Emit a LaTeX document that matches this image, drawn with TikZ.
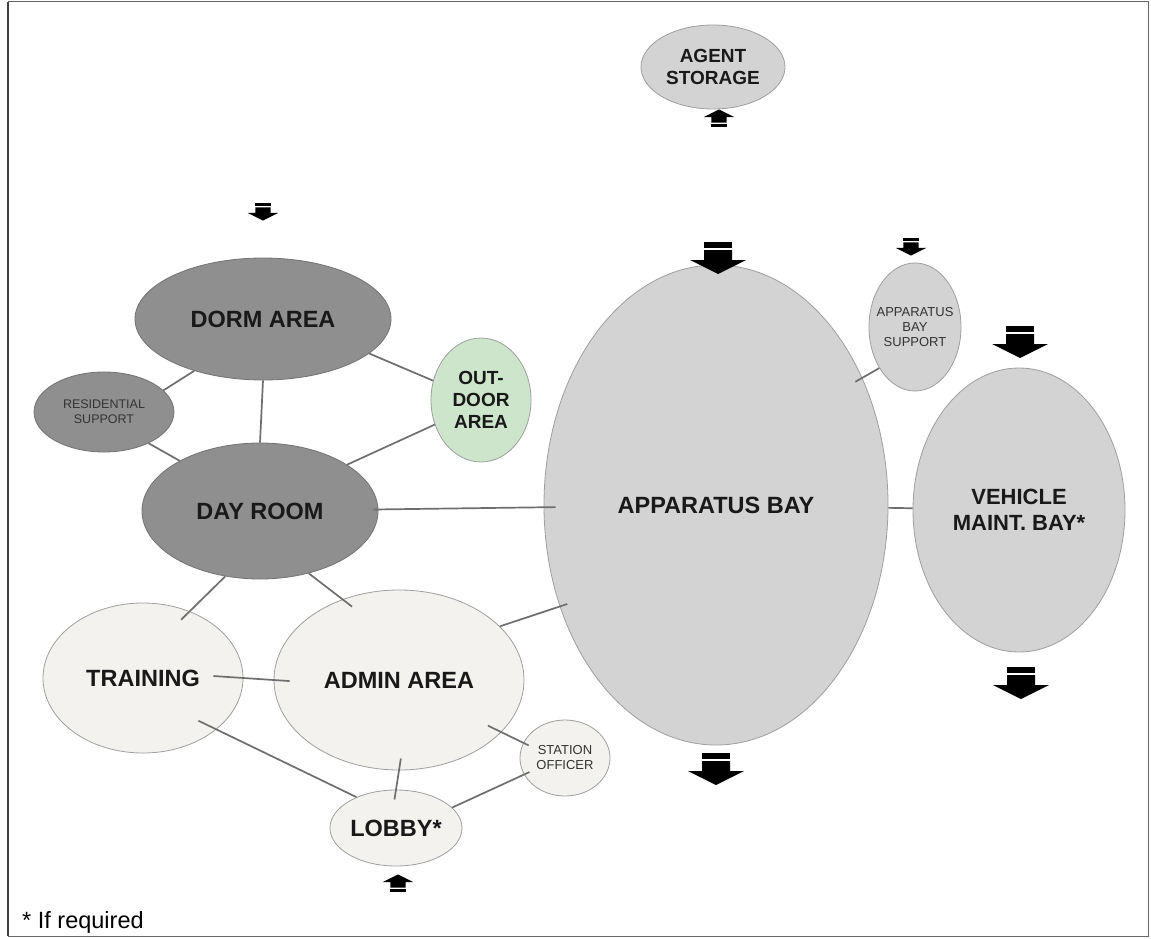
\documentclass[tikz,border=0pt]{standalone}
\usepackage{fontspec}
\setmainfont{Liberation Sans}
\usetikzlibrary{shapes.geometric}

\definecolor{crewgray}{HTML}{8F8F8F}
\definecolor{baygray}{HTML}{D3D3D3}
\definecolor{officewhite}{HTML}{F3F2EF}
\definecolor{yardgreen}{HTML}{CDE6CB}
\definecolor{linkgray}{HTML}{6E6E6E}

\tikzset{
  zone/.style={ellipse, draw=gray!75, line width=0.8pt, inner sep=0pt, align=center,
    text=black!90, font=\bfseries\fontsize{23.5}{26}\selectfont},
  crew/.style={zone, fill=crewgray, draw=gray!90!black},
  bay/.style={zone, fill=baygray},
  office/.style={zone, fill=officewhite},
  yard/.style={zone, fill=yardgreen},
  smalltext/.style={font=\fontsize{13}{15}\selectfont, text=black!80},
  midtext/.style={font=\bfseries\fontsize{19}{22}\selectfont},
  link/.style={draw=linkgray, line width=1.7pt},
  pics/flowarrow/.style={code={
    \fill (-14,0) rectangle (14,6);
    \fill (-14,8) -- (14,8) -- (14,18) -- (28,18) -- (0,32) -- (-28,18) -- (-14,18) -- cycle;
  }},
}

\begin{document}
\begin{tikzpicture}[x=1pt,y=-1pt]
    \useasboundingbox (0,0) rectangle (1151,939);
    \fill[white] (0,0) rectangle (1151,939);
    \draw[gray!80!black, line width=1pt] (8,2) rectangle (1148,936);
    \draw[black!75, line width=1.6pt] (8,2) -- (8,936);

    % zones
    \node[bay, midtext, minimum width=144, minimum height=84] (agent) at (713,67) {AGENT\\STORAGE};
    \node[crew, minimum width=256, minimum height=122] (dorm) at (263,319) {DORM AREA};
    \node[crew, smalltext, font=\fontsize{12.5}{15}\selectfont, minimum width=140, minimum height=80] (res) at (104,412) {RESIDENTIAL\\SUPPORT};
    \node[yard, font=\bfseries\fontsize{19}{22}\selectfont, minimum width=100, minimum height=124] (out) at (481,400) {OUT-\\DOOR\\AREA};
    \node[crew, minimum width=236, minimum height=136] (day) at (260,511) {DAY ROOM};
    \node[bay, minimum width=344, minimum height=480] (app) at (716,505) {APPARATUS BAY};
    \node[bay, smalltext, inner sep=-16pt, minimum width=92, minimum height=128] (appsup) at (915,327) {APPARATUS\\BAY\\SUPPORT};
    \node[bay, font=\bfseries\fontsize{22}{26}\selectfont, minimum width=212, minimum height=284] (veh) at (1019,510) {VEHICLE\\MAINT. BAY*};
    \node[office, minimum width=200, minimum height=150] (train) at (143,678) {TRAINING};
    \node[office, minimum width=250, minimum height=180] (admin) at (399,680) {ADMIN AREA};
    \node[office, smalltext, minimum width=90, minimum height=76] (officer) at (565,758) {STATION\\OFFICER};
    \node[office, minimum width=132, minimum height=76] (lobby) at (396,828) {LOBBY*};

    % links
    \draw[link] (res.20) -- (dorm.217);
    \draw[link] (res.-35) -- (day.148);
    \draw[link] (dorm.south) -- (day.north);
    \draw[link] (dorm.-18) -- (out.158);
    \draw[link] (day.28) -- (out.208);
    \draw[link, shorten <=-5pt, shorten >=-12pt] (day) -- (app);
    \draw[link, shorten >=-12pt] (day.-118) -- (train.55);
    \draw[link, shorten >=-12pt] (day.-52) -- (admin.125);
    \draw[link, shorten >=-8pt] (admin.28) -- (app.213);
    \draw[link, shorten <=-30pt, shorten >=-16pt] (train.east) -- (admin.west);
    \draw[link, shorten <=-20pt] (train.-35) -- (lobby.142);
    \draw[link, shorten <=-12pt, shorten >=-10pt] (admin.south) -- (lobby.north);
    \draw[link, shorten <=-15pt, shorten >=-6pt] (admin.-27) -- (officer.160);
    \draw[link, shorten >=-6pt] (lobby.20) -- (officer.202);
    \draw[link] (app) -- (veh);
    \draw[link, shorten <=-8pt] (app.41) -- (appsup.229);

    % flow arrows
    \pic[scale=0.55, rotate=180] at (719,127) {flowarrow};
    \pic[scale=0.55] at (263,203) {flowarrow};
    \pic at (718,242) {flowarrow};
    \pic[scale=0.55] at (911,238) {flowarrow};
    \pic at (1020,326) {flowarrow};
    \pic at (1021,667) {flowarrow};
    \pic at (716,753) {flowarrow};
    \pic[scale=0.55, rotate=180] at (398,892) {flowarrow};

    \node[anchor=base west, font=\fontsize{23.5}{26}\selectfont, inner sep=0pt] (note) at (22,928) {* If required};
\end{tikzpicture}
\end{document}
